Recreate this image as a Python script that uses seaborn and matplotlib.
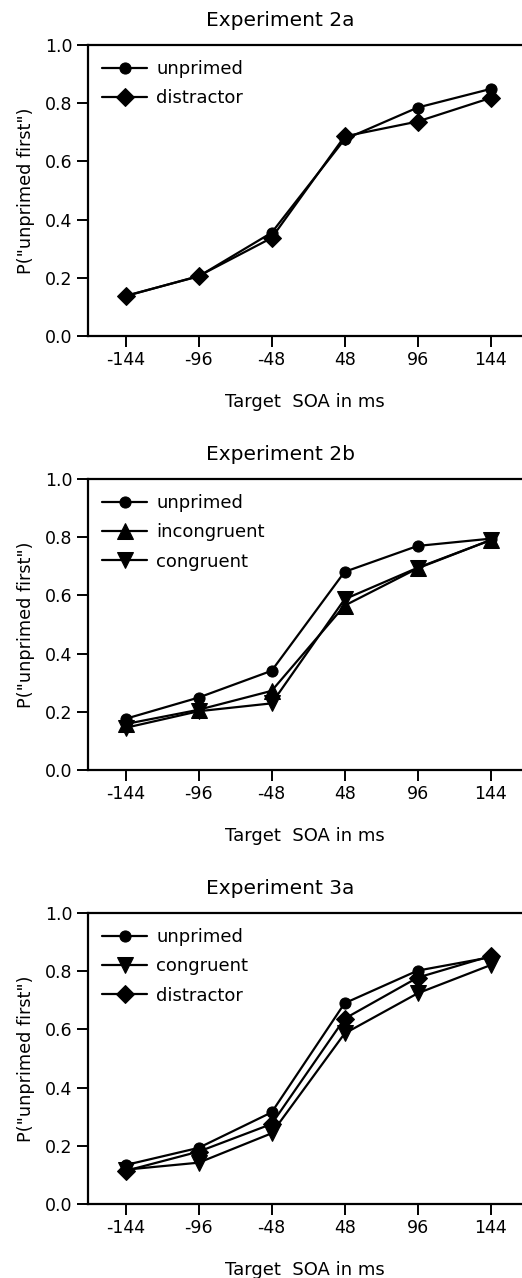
import numpy as np
import pandas as pd
import matplotlib
matplotlib.use("Agg")
import matplotlib.pyplot as plt
import seaborn as sns

soa_labels = ["-144", "-96", "-48", "48", "96", "144"]

titles = ["Experiment 2a", "Experiment 2b", "Experiment 3a"]

exp2a_unprimed = [0.138, 0.205, 0.355, 0.676, 0.785, 0.849]
exp2a_distractor = [0.137, 0.206, 0.337, 0.686, 0.737, 0.818]

exp2b_unprimed = [0.176, 0.249, 0.341, 0.681, 0.770, 0.795]
exp2b_incongruent = [0.158, 0.207, 0.272, 0.565, 0.693, 0.790]
exp2b_congruent = [0.145, 0.202, 0.229, 0.587, 0.695, 0.790]

exp3a_unprimed = [0.134, 0.193, 0.315, 0.690, 0.802, 0.848]
exp3a_congruent = [0.118, 0.142, 0.243, 0.586, 0.724, 0.821]
exp3a_distractor = [0.114, 0.180, 0.275, 0.637, 0.778, 0.852]

panels = [
    [("unprimed", exp2a_unprimed), ("distractor", exp2a_distractor)],
    [("unprimed", exp2b_unprimed), ("incongruent", exp2b_incongruent), ("congruent", exp2b_congruent)],
    [("unprimed", exp3a_unprimed), ("congruent", exp3a_congruent), ("distractor", exp3a_distractor)],
]

marker_map = {"unprimed": "o", "distractor": "D", "incongruent": "^", "congruent": "v"}
size_map = {"unprimed": 8, "distractor": 9, "incongruent": 11, "congruent": 11}

sns.set_theme(style="ticks")
plt.rcParams["font.family"] = ["DejaVu Sans"]
plt.rcParams["text.color"] = "black"
plt.rcParams["axes.labelcolor"] = "black"

W, H = 522, 1278
fig = plt.figure(figsize=(W / 100, H / 100), dpi=100)

tops = [45, 479, 913]
ax_h = 291
left = 88

for i, (series, title, top) in enumerate(zip(panels, titles, tops)):
    bottom = top + ax_h
    ax = fig.add_axes([left / W, 1 - bottom / H, (W - left) / W, ax_h / H])
    for name, vals in series:
        df = pd.DataFrame({"x": np.arange(len(soa_labels)), "p": vals})
        sns.lineplot(data=df, x="x", y="p", ax=ax, color="black", lw=1.6,
                     marker=marker_map[name], markersize=size_map[name],
                     markeredgecolor="black", markerfacecolor="black",
                     label=name)
    ax.set_xlim(-0.516, 5.43)
    ax.set_ylim(0, 1.0)
    ax.set_xticks(np.arange(len(soa_labels)))
    ax.set_xticklabels(soa_labels)
    ax.set_yticks([0.0, 0.2, 0.4, 0.6, 0.8, 1.0])
    ax.set_yticklabels(["0.0", "0.2", "0.4", "0.6", "0.8", "1.0"])
    ax.tick_params(axis="both", direction="out", length=8, width=1.4,
                   labelsize=12.5, color="black", labelcolor="black", pad=3)
    for s in ["left", "bottom", "top"]:
        ax.spines[s].set_linewidth(1.6)
        ax.spines[s].set_color("black")
    ax.spines["right"].set_visible(False)
    ax.set_xlabel("Target  SOA in ms", fontsize=13, labelpad=17)
    ax.set_ylabel('P("unprimed first")', fontsize=12.7, labelpad=7)
    ax.grid(False)
    leg = ax.legend(loc="upper left", bbox_to_anchor=(0.008, 0.985), frameon=False,
                    fontsize=13, handlelength=2.5, handletextpad=0.5,
                    labelspacing=0.62, borderaxespad=0.2)
    for t in leg.get_texts():
        t.set_color("black")
    fig.text(280 / W, 1 - (top - 24) / H, title, ha="center", va="center",
             fontsize=14.5, color="black")

fig.savefig("out.png", dpi=100)
